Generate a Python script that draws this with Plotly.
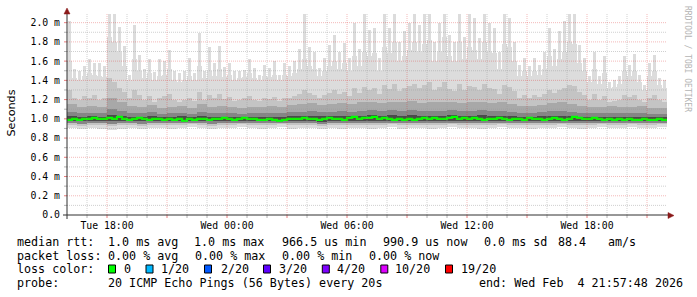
import plotly.graph_objects as go
import pandas as pd

# ---------------- data (latency values in milliseconds) ----------------
START = "2026-02-03 16:00:00"
END = "2026-02-04 22:00:00"

# 15-minute bins (120)
max_ms = [
    2.02, 1.52, 1.50, 1.55, 1.62, 1.58, 1.58, 1.55, 2.10, 2.10,
    1.95, 1.76, 1.46, 1.98, 1.66, 1.52, 1.62, 1.49, 1.62, 1.60,
    1.72, 1.50, 1.48, 1.50, 1.63, 1.48, 1.89, 1.50, 1.75, 1.58,
    1.76, 1.54, 1.58, 1.50, 1.50, 1.51, 1.62, 1.53, 1.46, 1.56,
    1.53, 1.60, 1.46, 1.58, 1.55, 1.60, 1.73, 2.10, 1.75, 1.70,
    1.53, 1.63, 1.77, 1.87, 1.70, 1.79, 1.63, 2.00, 1.73, 2.10,
    1.92, 1.94, 1.63, 2.10, 1.94, 2.10, 1.80, 1.91, 2.00, 2.10,
    1.98, 2.10, 2.10, 1.80, 2.00, 2.10, 1.87, 1.80, 2.10, 1.85,
    2.10, 2.05, 1.84, 2.10, 2.00, 1.94, 1.70, 2.10, 2.05, 1.80,
    1.56, 1.63, 1.55, 1.63, 1.56, 1.70, 1.94, 1.73, 1.91, 2.02,
    2.10, 2.10, 1.77, 1.63, 1.45, 1.70, 1.45, 1.65, 1.38, 1.40,
    1.45, 1.65, 1.56, 1.67, 1.46, 1.35, 1.58, 1.66, 1.42, 1.40,
]
p95_ms = [
    1.60, 1.42, 1.40, 1.45, 1.48, 1.46, 1.45, 1.44, 1.85, 1.80,
    1.70, 1.55, 1.40, 1.62, 1.50, 1.42, 1.48, 1.40, 1.45, 1.46,
    1.52, 1.40, 1.38, 1.40, 1.45, 1.40, 1.55, 1.42, 1.50, 1.45,
    1.52, 1.44, 1.46, 1.40, 1.42, 1.44, 1.48, 1.42, 1.40, 1.45,
    1.44, 1.46, 1.40, 1.46, 1.45, 1.48, 1.52, 1.62, 1.55, 1.52,
    1.45, 1.50, 1.55, 1.60, 1.52, 1.58, 1.50, 1.65, 1.55, 1.70,
    1.65, 1.68, 1.50, 1.75, 1.68, 1.80, 1.60, 1.65, 1.72, 1.80,
    1.70, 1.78, 1.82, 1.60, 1.70, 1.85, 1.65, 1.60, 1.80, 1.62,
    1.75, 1.72, 1.62, 1.80, 1.70, 1.68, 1.52, 1.78, 1.75, 1.60,
    1.45, 1.50, 1.45, 1.50, 1.46, 1.52, 1.65, 1.55, 1.62, 1.70,
    1.80, 1.78, 1.58, 1.50, 1.38, 1.52, 1.36, 1.48, 1.32, 1.33,
    1.36, 1.50, 1.45, 1.50, 1.38, 1.30, 1.45, 1.50, 1.35, 1.32,
]
up2_ms = [
    1.30, 1.22, 1.20, 1.24, 1.22, 1.25, 1.20, 1.22, 1.42, 1.38,
    1.32, 1.28, 1.22, 1.30, 1.25, 1.20, 1.24, 1.18, 1.22, 1.24,
    1.26, 1.20, 1.18, 1.20, 1.22, 1.19, 1.28, 1.20, 1.25, 1.22,
    1.26, 1.21, 1.23, 1.19, 1.20, 1.22, 1.24, 1.20, 1.19, 1.22,
    1.21, 1.23, 1.19, 1.22, 1.22, 1.24, 1.26, 1.30, 1.27, 1.25,
    1.22, 1.25, 1.27, 1.30, 1.26, 1.28, 1.24, 1.32, 1.27, 1.33,
    1.30, 1.32, 1.26, 1.35, 1.31, 1.36, 1.29, 1.32, 1.34, 1.36,
    1.32, 1.35, 1.38, 1.30, 1.33, 1.38, 1.31, 1.29, 1.36, 1.30,
    1.34, 1.33, 1.30, 1.36, 1.32, 1.31, 1.26, 1.35, 1.33, 1.29,
    1.22, 1.25, 1.22, 1.25, 1.23, 1.26, 1.30, 1.27, 1.30, 1.32,
    1.35, 1.34, 1.28, 1.25, 1.20, 1.26, 1.20, 1.24, 1.18, 1.19,
    1.20, 1.25, 1.23, 1.25, 1.20, 1.18, 1.22, 1.25, 1.20, 1.18,
]
median_ms = [
    0.99, 1.00, 0.99, 1.00, 1.00, 1.01, 1.00, 1.00, 1.01, 1.00,
    1.02, 1.00, 0.99, 1.00, 1.01, 1.00, 0.99, 1.00, 1.00, 0.99,
    1.00, 0.99, 1.00, 0.98, 1.00, 0.99, 1.00, 1.00, 0.99, 1.00,
    1.00, 1.01, 1.00, 0.99, 1.00, 1.01, 1.00, 1.00, 0.99, 0.99,
    1.00, 0.99, 0.98, 0.99, 1.00, 1.00, 1.00, 1.01, 1.00, 1.00,
    0.99, 1.00, 1.01, 1.00, 1.00, 0.99, 1.01, 1.02, 1.00, 1.01,
    1.01, 1.02, 1.00, 1.01, 1.00, 0.99, 1.00, 0.99, 1.00, 0.99,
    1.00, 1.01, 1.00, 1.01, 1.00, 1.00, 1.01, 1.02, 1.00, 1.01,
    1.00, 1.01, 1.00, 0.99, 1.00, 1.00, 1.01, 1.00, 0.99, 1.00,
    1.00, 0.99, 1.01, 1.00, 1.00, 0.99, 1.00, 1.01, 1.00, 0.99,
    1.00, 1.02, 1.01, 1.00, 1.00, 1.01, 1.00, 0.99, 1.00, 0.99,
    1.00, 0.99, 1.00, 0.99, 0.99, 1.00, 0.99, 0.99, 1.00, 0.99,
]

# 30-minute bins (60) for the inner smoke bands
up3_ms = [
    1.15, 1.12, 1.13, 1.12, 1.22, 1.18, 1.13, 1.12, 1.14, 1.11, 1.12, 1.13, 1.11, 1.15, 1.12, 1.13, 1.12, 1.11, 1.12, 1.12,
    1.13, 1.12, 1.14, 1.15, 1.16, 1.14, 1.15, 1.16, 1.15, 1.17, 1.18, 1.16, 1.18, 1.17, 1.19, 1.16, 1.18, 1.17, 1.18, 1.16,
    1.17, 1.18, 1.16, 1.17, 1.15, 1.13, 1.13, 1.14, 1.16, 1.17, 1.15, 1.13, 1.12, 1.12, 1.13, 1.12, 1.12, 1.13, 1.11, 1.11,
]
up4_ms = [
    1.07, 1.06, 1.06, 1.06, 1.10, 1.08, 1.06, 1.06, 1.07, 1.05, 1.06, 1.06, 1.05, 1.07, 1.06, 1.06, 1.06, 1.05, 1.06, 1.06,
    1.06, 1.06, 1.07, 1.07, 1.08, 1.07, 1.07, 1.08, 1.07, 1.08, 1.09, 1.08, 1.09, 1.08, 1.09, 1.08, 1.08, 1.08, 1.09, 1.08,
    1.08, 1.09, 1.08, 1.08, 1.07, 1.06, 1.06, 1.07, 1.08, 1.08, 1.07, 1.06, 1.06, 1.06, 1.06, 1.06, 1.06, 1.06, 1.05, 1.05,
]
up5_ms = [
    1.025, 1.02, 1.025, 1.02, 1.035, 1.03, 1.02, 1.02, 1.025, 1.02, 1.02, 1.025, 1.02, 1.025, 1.02, 1.02, 1.02, 1.02, 1.02, 1.02,
    1.02, 1.02, 1.025, 1.025, 1.03, 1.025, 1.025, 1.03, 1.025, 1.03, 1.035, 1.03, 1.035, 1.03, 1.035, 1.03, 1.03, 1.03, 1.035, 1.03,
    1.03, 1.035, 1.03, 1.03, 1.025, 1.02, 1.02, 1.025, 1.03, 1.03, 1.025, 1.02, 1.02, 1.02, 1.02, 1.02, 1.02, 1.02, 1.02, 1.02,
]
low1_ms = [
    0.90, 0.89, 0.90, 0.89, 0.88, 0.89, 0.90, 0.89, 0.90, 0.90, 0.89, 0.90, 0.91, 0.90, 0.89, 0.90, 0.90, 0.91, 0.90, 0.89,
    0.90, 0.91, 0.89, 0.90, 0.90, 0.89, 0.90, 0.89, 0.90, 0.90, 0.89, 0.90, 0.91, 0.89, 0.90, 0.90, 0.89, 0.90, 0.91, 0.90,
    0.90, 0.89, 0.90, 0.91, 0.90, 0.90, 0.89, 0.90, 0.90, 0.91, 0.90, 0.89, 0.90, 0.91, 0.90, 0.90, 0.91, 0.90, 0.90, 0.91,
]
low2_ms = [
    0.94, 0.93, 0.94, 0.94, 0.93, 0.94, 0.94, 0.93, 0.94, 0.94, 0.94, 0.94, 0.95, 0.94, 0.93, 0.94, 0.94, 0.95, 0.94, 0.94,
    0.94, 0.95, 0.94, 0.94, 0.94, 0.93, 0.94, 0.94, 0.94, 0.94, 0.94, 0.94, 0.95, 0.94, 0.94, 0.94, 0.94, 0.94, 0.95, 0.94,
    0.94, 0.94, 0.94, 0.95, 0.94, 0.94, 0.94, 0.94, 0.94, 0.95, 0.94, 0.94, 0.94, 0.95, 0.94, 0.94, 0.95, 0.94, 0.94, 0.95,
]
low3_ms = [
    0.955, 0.95, 0.955, 0.955, 0.95, 0.955, 0.955, 0.95, 0.955, 0.955, 0.955, 0.955, 0.96, 0.955, 0.95, 0.955, 0.955, 0.96, 0.955, 0.955,
    0.955, 0.96, 0.955, 0.955, 0.955, 0.95, 0.955, 0.955, 0.955, 0.955, 0.955, 0.955, 0.96, 0.955, 0.955, 0.955, 0.955, 0.955, 0.96, 0.955,
    0.955, 0.955, 0.955, 0.96, 0.955, 0.955, 0.955, 0.955, 0.955, 0.96, 0.955, 0.955, 0.955, 0.96, 0.955, 0.955, 0.96, 0.955, 0.955, 0.96,
]
low4_ms = [
    0.975, 0.975, 0.98, 0.975, 0.975, 0.975, 0.98, 0.975, 0.975, 0.98, 0.975, 0.975, 0.98, 0.975, 0.975, 0.98, 0.975, 0.975, 0.98, 0.975,
    0.975, 0.98, 0.975, 0.975, 0.975, 0.97, 0.975, 0.975, 0.98, 0.975, 0.975, 0.98, 0.98, 0.975, 0.975, 0.98, 0.975, 0.975, 0.98, 0.975,
    0.975, 0.975, 0.98, 0.98, 0.975, 0.975, 0.98, 0.975, 0.975, 0.98, 0.975, 0.975, 0.975, 0.98, 0.975, 0.975, 0.98, 0.975, 0.975, 0.975,
]

y_tick_vals = [0.0, 0.2, 0.4, 0.6, 0.8, 1.0, 1.2, 1.4, 1.6, 1.8, 2.0]
y_tick_text = ["0.0", "0.2 m", "0.4 m", "0.6 m", "0.8 m", "1.0 m",
               "1.2 m", "1.4 m", "1.6 m", "1.8 m", "2.0 m"]
x_tick_vals = ["2026-02-03 18:00", "2026-02-04 00:00", "2026-02-04 06:00",
               "2026-02-04 12:00", "2026-02-04 18:00"]
x_tick_text = ["Tue 18:00", "Wed 00:00", "Wed 06:00", "Wed 12:00", "Wed 18:00"]

loss_labels = ["0", "1/20", "2/20", "3/20", "4/20", "10/20", "19/20"]
loss_colors = ["#00ff00", "#00b8ff", "#0059ff", "#5e00ff", "#7e00ff", "#dd00ff", "#ff0000"]

stats_rtt = ["median rtt:", "1.0 ms avg", "1.0 ms max", "966.5 us min",
             "990.9 us now", "0.0 ms sd", "88.4", "am/s"]
stats_loss = ["packet loss:", "0.00 % avg", "0.00 % max", "0.00 % min", "0.00 % now"]
probe_text = ["probe:", "20 ICMP Echo Pings (56 Bytes) every 20s",
              "end: Wed Feb  4 21:57:48 2026"]

# ---------------- geometry helpers ----------------
W, H = 697, 297
PL, PR, PT, PB = 67, 667, 14, 215
Y_TOP = 2.09


def px(xp):
    return (xp - PL) / (PR - PL)


def py(yp):
    return (PB - yp) / (PB - PT)


MONO = "DejaVu Sans Mono"

t15 = pd.date_range(START, periods=len(max_ms), freq="15min") + pd.Timedelta(minutes=7.5)
t30 = pd.date_range(START, periods=len(up3_ms), freq="30min") + pd.Timedelta(minutes=15)
W15 = 15 * 60 * 1000
W30 = 30 * 60 * 1000


def band(x, lo, hi, color, width):
    return go.Bar(
        x=x, base=lo, y=[h - l for h, l in zip(hi, lo)], width=width,
        marker=dict(color=color, line=dict(width=0)),
        hoverinfo="skip", showlegend=False,
    )


fig = go.Figure()
C1, C2, C3, C4, C5 = "#dcdcdc", "#c4c4c4", "#a8a8a8", "#858585", "#4a4a4a"
fig.add_trace(band(t15, median_ms, max_ms, C1, W15 * 0.5))
fig.add_trace(band(t15, median_ms, p95_ms, C1, W15))
fig.add_trace(band(t30, low1_ms, up3_ms, C1, W30))
fig.add_trace(band(t15, median_ms, up2_ms, C2, W15))
fig.add_trace(band(t30, low2_ms, up3_ms, C2, W30))
fig.add_trace(band(t30, low3_ms, up3_ms, C3, W30))
fig.add_trace(band(t30, low3_ms, up4_ms, C4, W30))
fig.add_trace(band(t30, low4_ms, up5_ms, C5, W30))

# median line (step)
edges = pd.date_range(START, periods=len(median_ms) + 1, freq="15min")
fig.add_trace(go.Scatter(
    x=edges, y=median_ms + [median_ms[-1]], mode="lines",
    line=dict(color="#00ff00", width=2.2, shape="hv"),
    hoverinfo="skip", showlegend=False,
))

shapes = []
GRID_MIN = "rgba(150,150,150,0.45)"
GRID_MAJ = "rgba(220,40,40,0.32)"
TICK_MIN = "rgba(150,150,150,0.7)"
TICK_MAJ = "rgba(220,40,40,0.6)"
# vertical grid + x ticks
for t in pd.date_range(START, END, freq="1h")[1:-1]:
    major = t.hour % 3 == 0
    col = GRID_MAJ if major else GRID_MIN
    shapes.append(dict(type="line", xref="x", yref="paper", x0=t, x1=t, y0=0, y1=1,
                       line=dict(color=col, width=1, dash="1px,1px"), layer="above"))
    shapes.append(dict(type="line", xref="x", yref="paper", x0=t, x1=t, y0=0, y1=py(218),
                       line=dict(color=TICK_MAJ if major else TICK_MIN, width=1), layer="above"))
# horizontal grid + y ticks
for k in range(1, 21):
    v = k / 10
    major = k % 2 == 0
    col = GRID_MAJ if major else GRID_MIN
    shapes.append(dict(type="line", xref="paper", yref="y", x0=0, x1=1, y0=v, y1=v,
                       line=dict(color=col, width=1, dash="1px,1px"), layer="above"))
    shapes.append(dict(type="line", xref="paper", yref="y", x0=px(64), x1=0, y0=v, y1=v,
                       line=dict(color=TICK_MAJ if major else TICK_MIN, width=1), layer="above"))

AXC = "#303030"
ARC = "#8b1a1a"
shapes.append(dict(type="line", xref="paper", yref="paper", x0=px(63), x1=px(669),
                   y0=0, y1=0, line=dict(color=AXC, width=1), layer="above"))
shapes.append(dict(type="line", xref="paper", yref="paper", x0=0, x1=0,
                   y0=py(219), y1=py(12), line=dict(color=AXC, width=1), layer="above"))
shapes.append(dict(type="path", xref="paper", yref="paper",
                   path=f"M {px(668)} {py(212.5)} L {px(668)} {py(218.5)} L {px(674)} {py(215.5)} Z",
                   fillcolor=ARC, line=dict(color=ARC, width=0.5), layer="above"))
shapes.append(dict(type="path", xref="paper", yref="paper",
                   path=f"M {px(64)} {py(14)} L {px(70)} {py(14)} L {px(67)} {py(8)} Z",
                   fillcolor=ARC, line=dict(color=ARC, width=0.5), layer="above"))

annotations = []


def text_at(xp, yp, s, size=11.7, color="#000000", font=MONO, anchor="left", angle=0):
    annotations.append(dict(
        xref="paper", yref="paper", x=px(xp), y=py(yp), text=s.replace(" ", "\u00a0"),
        showarrow=False, xanchor=anchor, yanchor="middle", borderpad=0, textangle=angle,
        font=dict(family=font, size=size, color=color),
    ))


ROW_Y = [241.5, 255.5, 269.3, 283.3]
rtt_x = [16, 107.3, 193.0, 281.0, 382.0, 483.3, 557.0, 606.7]
for xp, s in zip(rtt_x, stats_rtt):
    text_at(xp, ROW_Y[0], s)
loss_x = [16, 107.3, 194.0, 281.0, 367.5]
for xp, s in zip(loss_x, stats_loss):
    text_at(xp, ROW_Y[1], s)
text_at(16, ROW_Y[2], "loss color:")
sq_x = [108.5, 146.0, 204.5, 263.5, 322.3, 380.8, 445.5]
lab_x = [123.3, 160.3, 219.5, 277.5, 336.0, 394.5, 459.5]
for xs, xl, lab, col in zip(sq_x, lab_x, loss_labels, loss_colors):
    shapes.append(dict(type="rect", xref="paper", yref="paper",
                       x0=px(xs), x1=px(xs + 7), y0=py(273), y1=py(265),
                       fillcolor=col, line=dict(color="#000000", width=1)))
    text_at(xl, ROW_Y[2], lab)
probe_x = [16, 107.3, 478.3]
for xp, s in zip(probe_x, probe_text):
    text_at(xp, ROW_Y[3], s)

text_at(11, 113.5, "Seconds", size=11.2, font="DejaVu Sans", anchor="center", angle=-90)
text_at(687, 59, "RRDTOOL / TOBI OETIKER", size=8, color="#b4b4b4", anchor="center", angle=90)

fig.update_layout(
    width=W, height=H,
    margin=dict(l=PL, r=W - PR, t=PT, b=H - PB, pad=0),
    paper_bgcolor="#ffffff", plot_bgcolor="#ffffff",
    barmode="overlay", bargap=0, showlegend=False,
    shapes=shapes, annotations=annotations,
    xaxis=dict(
        type="date", range=[START, END], showgrid=False, zeroline=False, showline=False,
        tickvals=x_tick_vals, ticktext=x_tick_text, ticks="",
        tickfont=dict(family=MONO, size=9.8, color="#000000"),
        ticklabelstandoff=3,
    ),
    yaxis=dict(
        range=[0, Y_TOP], showgrid=False, zeroline=False, showline=False,
        tickvals=y_tick_vals, ticktext=y_tick_text, ticks="",
        tickfont=dict(family=MONO, size=9.8, color="#000000"),
        ticklabelstandoff=6,
    ),
)

fig.write_html("out.html")
